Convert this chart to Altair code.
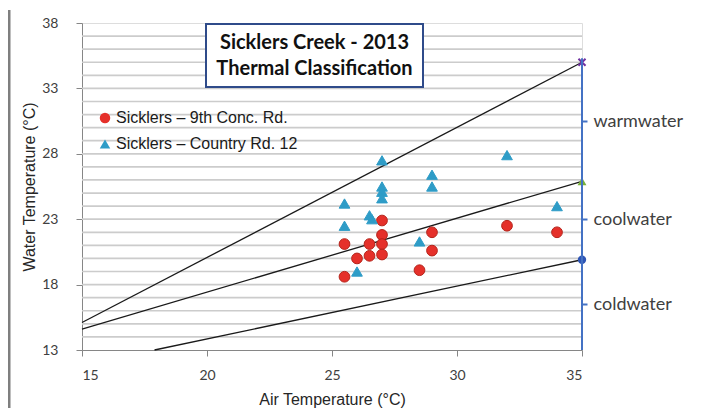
import altair as alt
import pandas as pd

# ---------------- data ----------------
series_names = ["Sicklers – 9th Conc. Rd.", "Sicklers – Country Rd. 12"]

air_9th = [25.5, 25.5, 26.0, 26.5, 26.5, 27.0, 27.0, 27.0, 27.0, 28.5, 29.0, 29.0, 32.0, 34.0]
water_9th = [21.1, 18.6, 20.0, 21.1, 20.2, 22.9, 21.8, 21.1, 20.3, 19.1, 22.0, 20.6, 22.5, 22.0]

air_cr12 = [25.5, 25.5, 26.0, 26.5, 26.6, 27.0, 27.0, 27.0, 27.0, 28.5, 29.0, 29.0, 32.0, 34.0]
water_cr12 = [24.2, 22.5, 19.0, 23.3, 23.0, 27.5, 25.5, 25.1, 24.6, 21.3, 26.4, 25.5, 27.9, 24.0]

# classification boundary lines (air, water) endpoints
line_names = ["warm", "cool", "cold"]
line_air_start = [15.0, 15.0, 17.9]
line_water_start = [15.1, 14.6, 13.0]
line_air_end = [35.0, 35.0, 35.0]
line_water_end = [35.0, 25.9, 19.9]
end_marker_colors = ["#7030A0", "#77B039", "#2F55B4"]

class_labels = ["warmwater", "coolwater", "coldwater"]
class_positions = [30.5, 23.0, 16.5]

x_ticks = [15, 20, 25, 30, 35]
y_ticks = [13, 18, 23, 28, 33, 38]
grid_values = list(range(14, 38))

title_lines = ["Sicklers Creek - 2013", "Thermal Classification"]

# ---------------- tables ----------------
pts = pd.DataFrame({
    "air": air_9th + air_cr12,
    "water": water_9th + water_cr12,
    "series": [series_names[0]] * len(air_9th) + [series_names[1]] * len(air_cr12),
})

lines_rows = []
for i, n in enumerate(line_names):
    lines_rows.append({"line": n, "air": line_air_start[i], "water": line_water_start[i], "o": 0})
    lines_rows.append({"line": n, "air": line_air_end[i], "water": line_water_end[i], "o": 1})
lines_df = pd.DataFrame(lines_rows)

ends_df = pd.DataFrame({
    "line": line_names,
    "air": line_air_end,
    "water": line_water_end,
    "color": end_marker_colors,
})

grid_df = pd.DataFrame({"g": grid_values})

W, H = 500, 327
PAD_L, PAD_T, PAD_R, PAD_B = 74, 15, 113, 58
XS = alt.Scale(domain=[15, 35], nice=False, zero=False)
YS = alt.Scale(domain=[13, 38], nice=False, zero=False)

AXCOL = "#868686"
TICKFONT = "Lato"

grid = alt.Chart(grid_df).mark_rule(color="#cccccc", strokeWidth=1.7).encode(
    y=alt.Y("g:Q", scale=YS,
            axis=alt.Axis(values=y_ticks, title="Water Temperature (°C)", grid=False,
                          domainColor=AXCOL, tickColor=AXCOL, tickSize=6,
                          labelFont=TICKFONT, labelFontSize=14, labelColor="#404040",
                          labelPadding=18, titleFont="Liberation Sans", titleFontSize=16,
                          titleFontWeight="normal", titleColor="#262626", titlePadding=4)),
    x=alt.value(0), x2=alt.value(W),
)

lines = alt.Chart(lines_df).mark_line(color="#1a1a1a", strokeWidth=1.3).encode(
    x=alt.X("air:Q", scale=XS,
            axis=alt.Axis(values=x_ticks, title="Air Temperature (°C)", grid=False,
                          domainColor=AXCOL, tickColor=AXCOL, tickSize=6,
                          labelFont=TICKFONT, labelFontSize=14, labelColor="#404040",
                          labelPadding=12, titleFont="Liberation Sans", titleFontSize=16,
                          titleFontWeight="normal", titleColor="#262626", titlePadding=9)),
    y=alt.Y("water:Q", scale=YS),
    detail="line:N",
    order="o:Q",
)

points = alt.Chart(pts).mark_point(filled=True, opacity=1, strokeWidth=1).encode(
    x=alt.X("air:Q", scale=XS),
    y=alt.Y("water:Q", scale=YS),
    color=alt.Color("series:N",
                    scale=alt.Scale(domain=series_names, range=["#E5302A", "#2E9CC7"]),
                    legend=alt.Legend(title=None, orient="none", legendX=15, legendY=87,
                                      labelFont="Liberation Sans", labelFontSize=16,
                                      labelColor="#1a1a1a", symbolSize=110, labelLimit=0,
                                      symbolStrokeWidth=0, rowPadding=10, labelOffset=3,
                                      padding=0)),
    shape=alt.Shape("series:N",
                    scale=alt.Scale(domain=series_names, range=["circle", "triangle-up"])),
    stroke=alt.Stroke("series:N",
                      scale=alt.Scale(domain=series_names, range=["#B5241B", "#2E9CC7"]),
                      legend=None),
    size=alt.value(115),
)

end_warm = alt.Chart(ends_df.iloc[[0]]).mark_point(
    shape="M-1,-1L1,1M-1,1L1,-1", filled=False, opacity=1, size=50, strokeWidth=2
).encode(
    x=alt.X("air:Q", scale=XS),
    y=alt.Y("water:Q", scale=YS),
    stroke=alt.Stroke("color:N", scale=None),
)
end_cool = alt.Chart(ends_df.iloc[[1]]).mark_point(
    shape="triangle-up", filled=True, opacity=1, size=80
).encode(
    x=alt.X("air:Q", scale=XS),
    y=alt.Y("water:Q", scale=YS),
    color=alt.Color("color:N", scale=None),
)
end_cold = alt.Chart(ends_df.iloc[[2]]).mark_point(
    shape="circle", filled=True, opacity=1, size=70
).encode(
    x=alt.X("air:Q", scale=XS),
    y=alt.Y("water:Q", scale=YS),
    color=alt.Color("color:N", scale=None),
)

title_box = alt.Chart(pd.DataFrame({"a": [0]})).mark_rect(
    fill="white", stroke="#2F4B8A", strokeWidth=2
).encode(x=alt.value(124), x2=alt.value(341), y=alt.value(1), y2=alt.value(64))

title_l1 = alt.Chart(pd.DataFrame({"t": [title_lines[0]]})).mark_text(
    font="Lato", fontSize=20, fontWeight="bold", color="#111111", align="center",
    baseline="middle"
).encode(x=alt.value(232.5), y=alt.value(20), text="t:N")

title_l2 = alt.Chart(pd.DataFrame({"t": [title_lines[1]]})).mark_text(
    font="Lato", fontSize=20, fontWeight="bold", color="#111111", align="center",
    baseline="middle"
).encode(x=alt.value(232.5), y=alt.value(46), text="t:N")

# chart-area frame: left edge only (test whether the stray right-hand line comes from the top band)
frame_left = alt.Chart(pd.DataFrame({"a": [0]})).mark_rect(
    fill="#7f7f7f", strokeWidth=0
).encode(x=alt.value(-74), x2=alt.value(-71.5), y=alt.value(-13), y2=alt.value(H + PAD_B + 30))

main = alt.layer(grid, lines, points, end_warm, end_cool, end_cold)

right_rule = alt.Chart(pd.DataFrame({"a": [35], "lo": [13.0], "hi": [35.3]})).mark_rule(
    color="#4472C4", strokeWidth=2
).encode(
    x=alt.X("a:Q", scale=XS),
    y=alt.Y("lo:Q", scale=YS,
            axis=alt.Axis(orient="right", values=class_positions, domain=False,
                          labelExpr="datum.value == 30.5 ? 'warmwater' : datum.value == 23 ? 'coolwater' : 'coldwater'",
                          tickColor="#4472C4", tickSize=5, tickWidth=2, grid=False,
                          labelFont=TICKFONT, labelFontSize=18, labelColor="#404040",
                          labelPadding=6, title=None)),
    y2="hi:Q",
)

chart = alt.layer(
    alt.layer(frame_left, main, title_box, title_l1, title_l2),
    right_rule,
).resolve_scale(y="independent").properties(
    width=W, height=H,
    autosize=alt.AutoSizeParams(type="none"),
    padding={"left": PAD_L, "top": PAD_T, "right": PAD_R, "bottom": PAD_B},
).configure_view(stroke=None).configure(background="white")

chart.save("out.html", embed_options={"renderer": "svg", "actions": False})
